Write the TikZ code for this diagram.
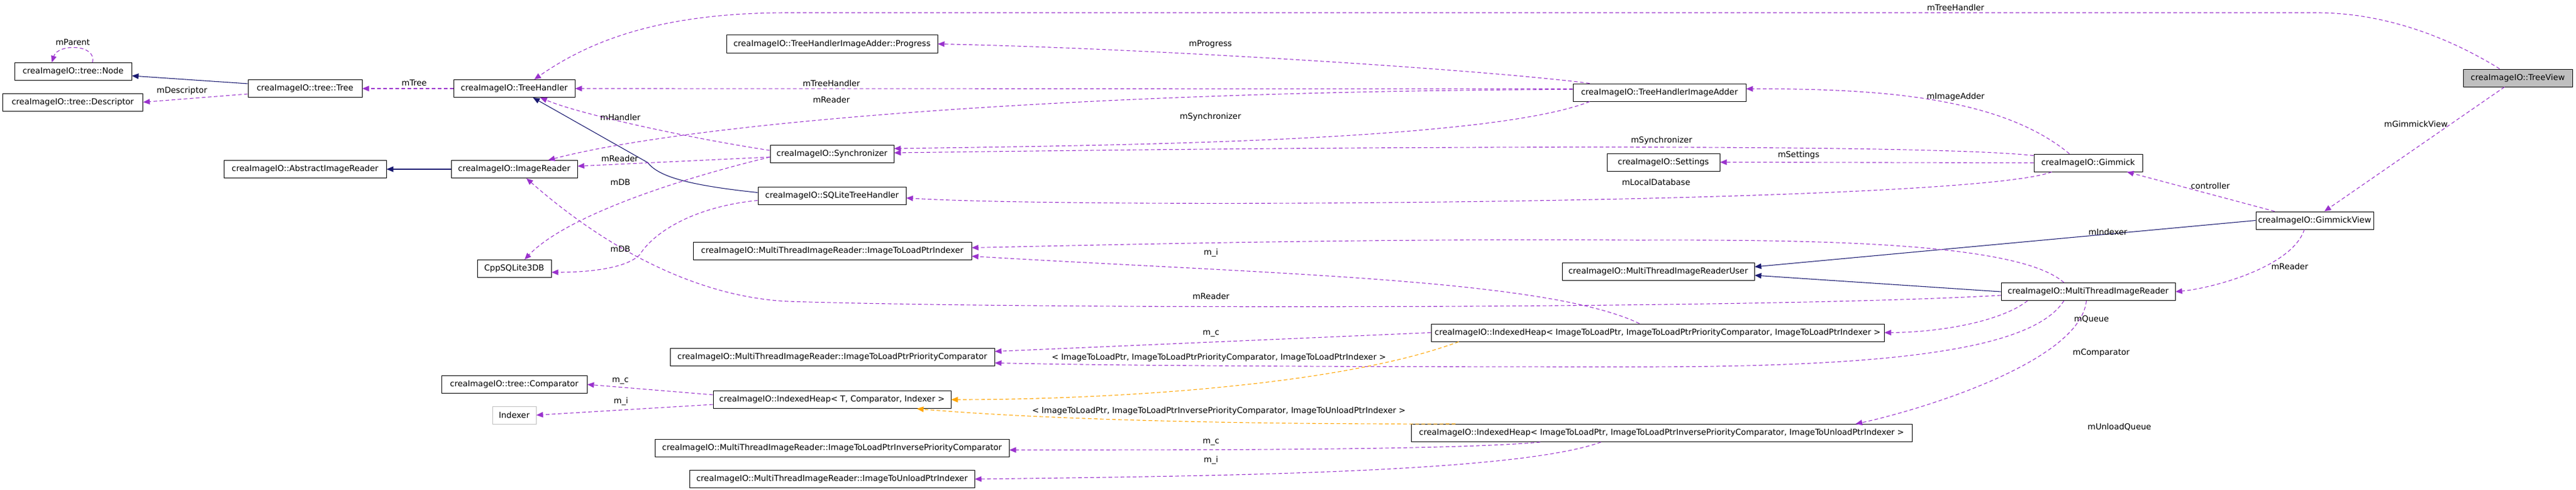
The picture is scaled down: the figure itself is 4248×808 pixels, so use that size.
\documentclass[tikz,border=0pt]{standalone}
\usepackage{fontspec}
\setmainfont{DejaVu Sans}
\usetikzlibrary{arrows.meta}
\definecolor{edgepurple}{HTML}{9A32CD}
\definecolor{inheritblue}{HTML}{191970}
\definecolor{tmplorange}{HTML}{FFA500}
\definecolor{boxgray}{HTML}{BFBFBF}
\newcommand{\fs}{\fontsize{13.5}{16}\selectfont}

\begin{document}
\begin{tikzpicture}[x=1pt,y=-1pt,
  klass/.style={draw=black,line width=1pt,fill=white,inner sep=0pt,minimum height=29pt,font=\fs},
  member/.style={edgepurple,line width=1.1pt,dash pattern=on 6pt off 4pt,-{Triangle[length=11pt,width=9pt]}},
  inherit/.style={inheritblue,line width=1.1pt,-{Triangle[length=11pt,width=9pt]}},
  tmpl/.style={tmplorange,line width=1.1pt,dash pattern=on 6pt off 4pt,-{Triangle[length=11pt,width=9pt]}},
  elabel/.style={font=\fs,inner sep=0pt}]
   \useasboundingbox (0,0) rectangle (4248,808);
   % classes
   \node[klass,minimum width=193pt] (node)        at (120.5,118)   {creaImageIO::tree::Node};
   \node[klass,minimum width=231pt] (descriptor)  at (120,168.5)   {creaImageIO::tree::Descriptor};
   \node[klass,minimum width=188pt] (tree)        at (503,146)     {creaImageIO::tree::Tree};
   \node[klass,minimum width=268pt] (abstractreader) at (503,279)  {creaImageIO::AbstractImageReader};
   \node[klass,minimum width=200pt] (treehandler) at (848,146)     {creaImageIO::TreeHandler};
   \node[klass,minimum width=208pt] (imagereader) at (848,279)     {creaImageIO::ImageReader};
   \node[klass,minimum width=122pt] (cppdb)       at (848,443)     {CppSQLite3DB};
   \node[klass,minimum width=240pt] (treecmp)     at (848,634)     {creaImageIO::tree::Comparator};
   \node[klass,draw=boxgray,minimum width=72pt] (indexer) at (848,684.5) {Indexer};
   \node[klass,minimum width=348pt] (progress)    at (1372,72.5)   {creaImageIO::TreeHandlerImageAdder::Progress};
   \node[klass,minimum width=204pt] (synchronizer) at (1372,254)   {creaImageIO::Synchronizer};
   \node[klass,minimum width=244pt] (sqlitehandler) at (1372,322.5) {creaImageIO::SQLiteTreeHandler};
   \node[klass,minimum width=459pt] (loadindexer) at (1372.5,413.5) {creaImageIO::MultiThreadImageReader::ImageToLoadPtrIndexer};
   \node[klass,minimum width=535pt] (prioritycmp) at (1372.5,588.5) {creaImageIO::MultiThreadImageReader::ImageToLoadPtrPriorityComparator};
   \node[klass,minimum width=392pt] (heapt)       at (1372,659)    {creaImageIO::IndexedHeap< T, Comparator, Indexer >};
   \node[klass,minimum width=584pt] (inversecmp)  at (1372,739)    {creaImageIO::MultiThreadImageReader::ImageToLoadPtrInversePriorityComparator};
   \node[klass,minimum width=470pt] (unloadindexer) at (1372,790)  {creaImageIO::MultiThreadImageReader::ImageToUnloadPtrIndexer};
   \node[klass,minimum width=285pt] (imageadder)  at (2736.5,152.5) {creaImageIO::TreeHandlerImageAdder};
   \node[klass,minimum width=186pt] (settings)    at (2743,267.5)  {creaImageIO::Settings};
   \node[klass,minimum width=317pt] (readeruser)  at (2734.5,448)  {creaImageIO::MultiThreadImageReaderUser};
   \node[klass,minimum width=747pt] (loadheap)    at (2733.5,548.5) {creaImageIO::IndexedHeap< ImageToLoadPtr, ImageToLoadPtrPriorityComparator, ImageToLoadPtrIndexer >};
   \node[klass,minimum width=826pt] (unloadheap)  at (2740,714)    {creaImageIO::IndexedHeap< ImageToLoadPtr, ImageToLoadPtrInversePriorityComparator, ImageToUnloadPtrIndexer >};
   \node[klass,minimum width=179pt] (gimmick)     at (3443.5,268.5) {creaImageIO::Gimmick};
   \node[klass,minimum width=287pt] (mtreader)    at (3443.5,481)  {creaImageIO::MultiThreadImageReader};
   \node[klass,minimum width=194pt] (gimmickview) at (3817,363.5)  {creaImageIO::GimmickView};
   \node[klass,fill=boxgray,minimum width=180pt] (treeview) at (4152,128.5) {creaImageIO::TreeView};
   % inheritance
   \draw[inherit] ([yshift=8pt]tree.west) -- ([yshift=-7pt]node.east);
   \draw[inherit] (imagereader.west) -- (abstractreader.east);
   \draw[inherit] ([yshift=5pt]sqlitehandler.west) .. controls (1130,305) and (1085,290) .. (1068,268) -- ([xshift=31pt]treehandler.south);
   \draw[inherit] (gimmickview.west) -- ([yshift=8pt]readeruser.east);
   \draw[inherit] (mtreader.west) -- ([yshift=-6pt]readeruser.east);
   % members
   \draw[member] ([xshift=32pt]node.north) .. controls (160,72) and (95,72) .. ([xshift=-35pt]node.north);
   \draw[member] ([yshift=-9pt]tree.west) -- (descriptor.east);
   \draw[member] (treehandler.west) -- (tree.east);
   \draw[member] ([xshift=-30pt]treeview.north) .. controls (4060,75) and (3950,21) .. (3820,21) -- (1300,21) .. controls (1100,21) and (980,62) .. ([xshift=33pt]treehandler.north);
   \draw[member] ([yshift=6pt]imageadder.west) -- (treehandler.east);
   \draw[member] ([yshift=5pt]imageadder.west) .. controls (1800,150) and (1150,200) .. ([xshift=56pt]imagereader.north);
   \draw[member] ([xshift=-115pt]imageadder.north) .. controls (2450,115) and (1900,80) .. (progress.east);
   \draw[member] ([xshift=-115pt]imageadder.south) .. controls (2450,235) and (1800,240) .. ([yshift=9pt]synchronizer.east);
   \draw[member] ([xshift=-31pt]gimmick.north) .. controls (3300,160) and (3100,146) .. ([yshift=6pt]imageadder.east);
   \draw[member] ([yshift=12pt]gimmick.west) .. controls (3200,240) and (2500,238) .. ([yshift=2pt]synchronizer.east);
   \draw[member] (gimmick.west) -- (settings.east);
   \draw[member] ([xshift=-60pt]gimmick.south) .. controls (3250,335) and (1800,345) .. ([yshift=-4pt]sqlitehandler.east);
   \draw[member] ([yshift=6pt]synchronizer.west) .. controls (1150,230) and (960,190) .. ([xshift=43pt]treehandler.south);
   \draw[member] ([yshift=-5pt]synchronizer.west) -- ([yshift=5pt]imagereader.east);
   \draw[member] ([yshift=-5pt]synchronizer.west) .. controls (1100,300) and (930,360) .. ([xshift=17pt]cppdb.north);
   \draw[member] ([yshift=-8pt]sqlitehandler.west) .. controls (1150,340) and (1080,380) .. (1055,420) .. controls (1030,445) and (960,449) .. ([yshift=-6pt]cppdb.east);
   \draw[member] ([yshift=-6pt]mtreader.west) .. controls (2900,510) and (1700,510) .. (1300,497) .. controls (1150,490) and (1000,410) .. ([xshift=20pt]imagereader.south);
   \draw[member] ([xshift=-40pt]mtreader.north) .. controls (3330,400) and (3000,395) .. (2700,396) .. controls (2300,393) and (1900,402) .. ([yshift=5pt]loadindexer.east);
   \draw[member] ([xshift=-30pt]loadheap.north) .. controls (2550,460) and (2100,452) .. ([yshift=-9pt]loadindexer.east);
   \draw[member] ([xshift=-100pt]mtreader.south) .. controls (3300,530) and (3200,548) .. (loadheap.east);
   \draw[member] (loadheap.west) -- ([yshift=9pt]prioritycmp.east);
   \draw[member] ([xshift=-40pt]mtreader.south) .. controls (3350,580) and (3100,605) .. (2700,605) .. controls (2300,605) and (1900,604) .. ([yshift=-10pt]prioritycmp.east);
   \draw[member] ([xshift=-3pt]mtreader.south) .. controls (3430,600) and (3150,680) .. ([xshift=320pt]unloadheap.north);
   \draw[tmpl] ([xshift=-328pt]loadheap.south) .. controls (2200,640) and (1800,659) .. (heapt.east);
   \draw[tmpl] ([xshift=-340pt]unloadheap.north) .. controls (2000,700) and (1700,690) .. ([xshift=140pt]heapt.south);
   \draw[member] ([yshift=8pt]heapt.west) -- (treecmp.east);
   \draw[member] ([yshift=-8pt]heapt.west) -- (indexer.east);
   \draw[member] ([xshift=-200pt]unloadheap.south) .. controls (2400,742) and (2000,742) .. ([yshift=-3pt]inversecmp.east);
   \draw[member] ([xshift=-100pt]unloadheap.south) .. controls (2500,780) and (2000,785) .. (unloadindexer.east);
   \draw[member] ([xshift=-17pt]gimmickview.south) .. controls (3780,440) and (3650,475) .. (mtreader.east);
   \draw[member] ([xshift=-22pt]treeview.south) -- ([xshift=16pt]gimmickview.north);
   \draw[member] ([xshift=-66pt]gimmickview.north) -- ([xshift=64pt]gimmick.south);
   % edge labels
   \node[elabel] (lbparent)    at (120,70)   {mParent};
   \node[elabel] (lbdesc)      at (300,150)  {mDescriptor};
   \node[elabel] (lbtree)      at (683,137)  {mTree};
   \node[elabel] (lbtophandler) at (3225,12) {mTreeHandler};
   \node[elabel] (lbhandler)   at (1371,137) {mTreeHandler};
   \node[elabel] (lbaddreader) at (1371,164) {mReader};
   \node[elabel] (lbprogress)  at (1996,73)  {mProgress};
   \node[elabel] (lbaddsync)   at (1996,193) {mSynchronizer};
   \node[elabel] (lbadder)     at (3225,160) {mImageAdder};
   \node[elabel] (lbgimsync)   at (2740,232) {mSynchronizer};
   \node[elabel] (lbsettings)  at (2966,256) {mSettings};
   \node[elabel] (lblocaldb)   at (2731,300) {mLocalDatabase};
   \node[elabel] (lbsynchandler) at (1023,193) {mHandler};
   \node[elabel] (lbsyncreader) at (1022,261) {mReader};
   \node[elabel] (lbsyncdb)    at (1023,301) {mDB};
   \node[elabel] (lbsqlitedb)  at (1023,411) {mDB};
   \node[elabel] (lbgimview)   at (3984,204) {mGimmickView};
   \node[elabel] (lbcontrol)   at (3645,306) {controller};
   \node[elabel] (lbindexer)   at (3476,382) {mIndexer};
   \node[elabel] (lbviewreader) at (3776,439) {mReader};
   \node[elabel] (lbloadi)     at (1997,417) {m\_i};
   \node[elabel] (lbmtreader)  at (1997,488) {mReader};
   \node[elabel] (lbqueue)     at (3449,526) {mQueue};
   \node[elabel] (lbloadc)     at (1997,550) {m\_c};
   \node[elabel] (lbloadtpl)   at (2010,590) {< ImageToLoadPtr, ImageToLoadPtrPriorityComparator, ImageToLoadPtrIndexer >};
   \node[elabel] (lbcomparator) at (3465,582) {mComparator};
   \node[elabel] (lbtc)        at (1023,628) {m\_c};
   \node[elabel] (lbti)        at (1024,662) {m\_i};
   \node[elabel] (lbunloadtpl) at (2010,678) {< ImageToLoadPtr, ImageToLoadPtrInversePriorityComparator, ImageToUnloadPtrIndexer >};
   \node[elabel] (lbunloadq)   at (3495,704) {mUnloadQueue};
   \node[elabel] (lbunloadc)   at (1997,729) {m\_c};
   \node[elabel] (lbunloadi)   at (1997,759) {m\_i};
\end{tikzpicture}
\end{document}
